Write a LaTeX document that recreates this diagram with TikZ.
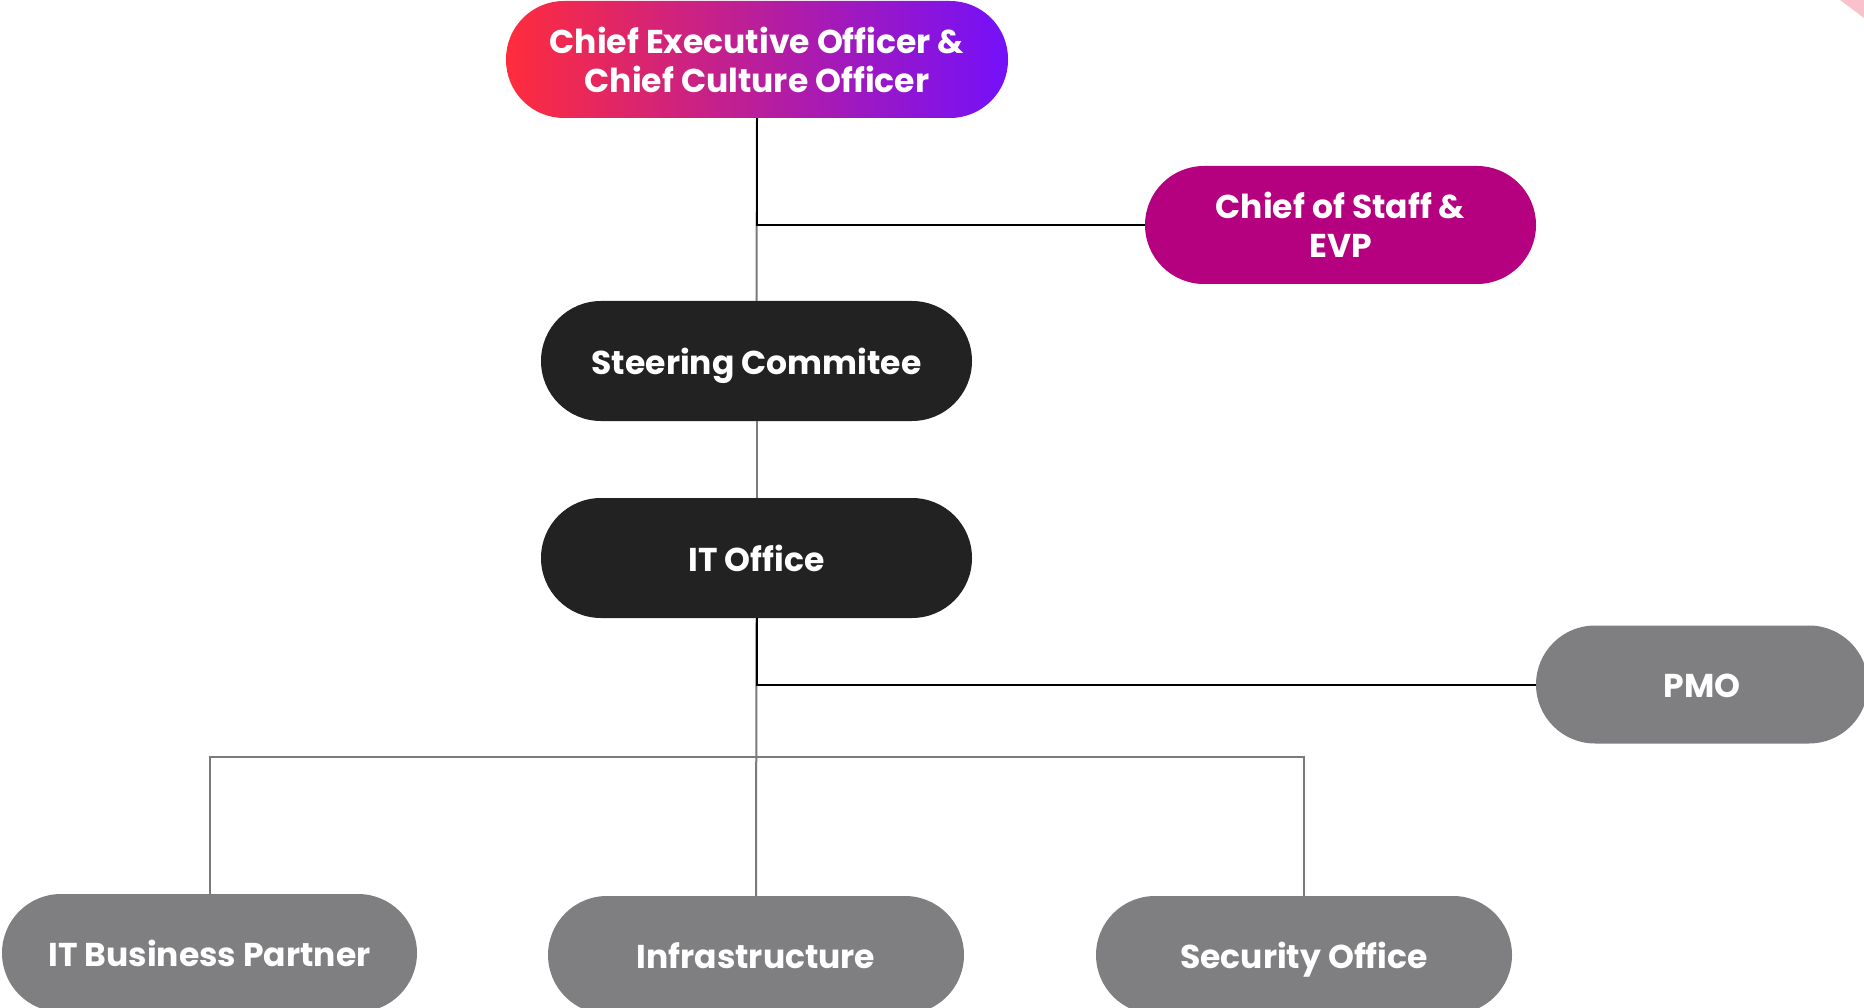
\documentclass[tikz,border=0pt]{standalone}
\usepackage{fontspec}
\setmainfont{Poppins}
\definecolor{cosc}{HTML}{B5007F}
\definecolor{darkn}{HTML}{222222}
\definecolor{grayn}{HTML}{7F7F81}
\definecolor{linegray}{HTML}{7A7A7A}
\definecolor{ceoL}{HTML}{FF2C3C}
\definecolor{ceoM}{HTML}{C81EB4}
\definecolor{ceoR}{HTML}{7410FA}
\definecolor{cornerpink}{HTML}{F9C2CB}
\tikzset{
  pill/.style={rectangle, rounded corners=58pt, inner sep=0pt, align=center,
    text=white, font=\fontsize{33}{39}\selectfont\bfseries},
  onel/.style={text height=26pt, text depth=0pt},
  darkpill/.style={pill, onel, fill=darkn, minimum width=431pt, minimum height=120pt, rounded corners=60pt},
  graypill/.style={pill, onel, fill=grayn, minimum height=118pt, rounded corners=59pt},
  glink/.style={draw=linegray, line width=2pt},
  blink/.style={draw=black, line width=2pt}
}
\begin{document}
\begin{tikzpicture}[x=1pt,y=-1pt]
\useasboundingbox (0,0) rectangle (1864,1008);
\clip (0,0) rectangle (1864,1008);
\fill[cornerpink] (1840,0) -- (1864,0) -- (1864,18) -- cycle;

\node[pill, left color=ceoL, middle color=ceoM, right color=ceoR,
      minimum width=502pt, minimum height=117pt] (ceo) at (757,59.5)
      {Chief Executive Officer \&\\Chief Culture Officer};
\node[pill, fill=cosc, minimum width=391pt, minimum height=118pt, rounded corners=59pt]
      (cos) at (1340.5,225) {Chief of Staff \&\\EVP};
\node[darkpill] (steer) at (756.5,361) {Steering Commitee};
\node[darkpill] (ito) at (756.5,558) {IT Office};
\node[graypill, minimum width=332pt] (pmo) at (1702,684.5) {PMO};
\node[graypill, minimum width=415pt] (itbp) at (209.5,953) {IT Business Partner};
\node[graypill, minimum width=416pt] (infra) at (756,955) {Infrastructure};
\node[graypill, minimum width=416pt] (sec) at (1304,955) {Security Office};

\coordinate (bus) at (756.5,756.5);

\draw[glink] (ceo.south) -- (steer.north);
\draw[glink] (steer.south) -- (ito.north);
\draw[glink] (ito.south) -- (infra.north);
\draw[glink] (bus) -| (itbp.north);
\draw[glink] (bus) -| (sec.north);
\draw[blink] (ceo.south) |- (cos.west);
\draw[blink] (ito.south) |- (pmo.west);
\end{tikzpicture}
\end{document}
